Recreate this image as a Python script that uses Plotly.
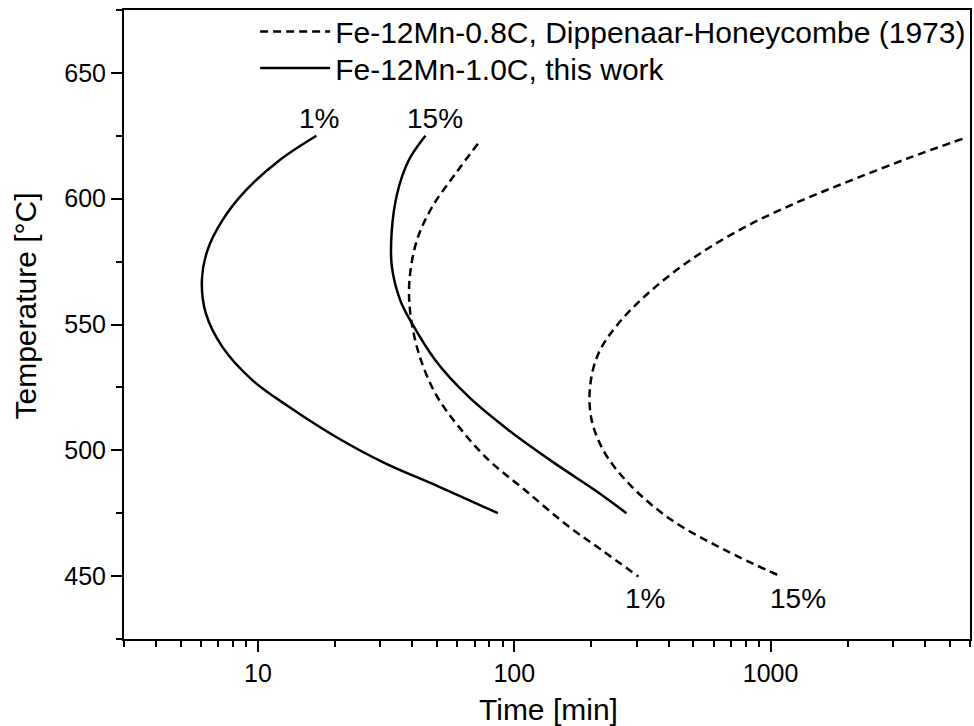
import plotly.graph_objects as go
import math

# ---- data ----
solid_1_time = [16.9, 12.1, 8.96, 7.26, 6.35, 6.04, 6.26, 7.26, 9.50, 13.2, 20.1, 31.4, 50.7, 86.3]
solid_1_temp = [625, 615.2, 603.3, 591.4, 579.5, 567.6, 554.4, 541.1, 527.9, 517.3, 505.4, 494.8, 485.6, 475]

solid_15_time = [45.0, 38.7, 34.9, 33.2, 33.3, 35.9, 39.9, 49.2, 66.3, 94.8, 144, 206, 274]
solid_15_temp = [625, 615.2, 602, 586.1, 572.9, 559.6, 550.4, 535.8, 521.3, 508.1, 494.8, 484.2, 475]

dash_1_time = [72.1, 58.9, 47.8, 41.7, 39.0, 39.3, 42.4, 49.2, 60.7, 79.3, 110, 163, 219, 305]
dash_1_temp = [621.8, 609.9, 596.7, 583.5, 567.6, 554.4, 538.5, 522.6, 509.4, 496.2, 484.2, 469.7, 460.4, 449.8]

dash_15_time = [5610, 3530, 2062, 1281, 793, 506, 343, 255, 213, 197.5, 200.4, 226, 287, 411, 662, 1101]
dash_15_temp = [623.8, 616.5, 607.3, 598.7, 588.7, 576.8, 563.6, 550.4, 538.5, 525.2, 512.0, 498.8, 485.6, 472.3, 460.4, 449.8]

label_text = ["1%", "15%", "1%", "15%"]
label_time = [17.3, 48.9, 324, 1279]
label_temp = [632, 632, 441, 441]

legend_names = ["Fe-12Mn-0.8C, Dippenaar-Honeycombe (1973)", "Fe-12Mn-1.0C, this work"]

x_title = "Time [min]"
y_title = "Temperature [°C]"

x_major = [10, 100, 1000]
x_minor = [3, 4, 5, 6, 7, 8, 9, 20, 30, 40, 50, 60, 70, 80, 90,
           200, 300, 400, 500, 600, 700, 800, 900, 2000, 3000, 4000, 5000, 6000]

FONT = "Liberation Sans, Arial, sans-serif"
LW = 2.5
DASH = "8px,5px"

fig = go.Figure()

fig.add_trace(go.Scatter(x=dash_1_time, y=dash_1_temp, mode="lines", name=legend_names[0],
                         line=dict(color="black", width=LW, dash=DASH, shape="spline"),
                         legend="legend", legendgroup="d", showlegend=True))
fig.add_trace(go.Scatter(x=dash_15_time, y=dash_15_temp, mode="lines", name=legend_names[0],
                         line=dict(color="black", width=LW, dash=DASH, shape="spline"),
                         legend="legend", legendgroup="d", showlegend=False))
fig.add_trace(go.Scatter(x=solid_1_time, y=solid_1_temp, mode="lines", name=legend_names[1],
                         line=dict(color="black", width=LW, shape="spline"),
                         legend="legend2", legendgroup="s", showlegend=True))
fig.add_trace(go.Scatter(x=solid_15_time, y=solid_15_temp, mode="lines", name=legend_names[1],
                         line=dict(color="black", width=LW, shape="spline"),
                         legend="legend2", legendgroup="s", showlegend=False))

for txt, t, T in zip(label_text, label_time, label_temp):
    fig.add_annotation(x=math.log10(t), y=T, text=txt, showarrow=False,
                       font=dict(family=FONT, size=28, color="black"))

# axis titles placed as text annotations (paper coordinates)
fig.add_annotation(xref="paper", yref="paper", x=0.502, y=-0.112, text=x_title,
                   showarrow=False, xanchor="center", yanchor="middle",
                   font=dict(family=FONT, size=30, color="black"))
fig.add_annotation(xref="paper", yref="paper", x=-0.116, y=0.53, text=y_title,
                   showarrow=False, xanchor="center", yanchor="middle", textangle=-90,
                   font=dict(family=FONT, size=30, color="black"))

legend_style = dict(xanchor="left", yanchor="top", bgcolor="rgba(0,0,0,0)",
                    font=dict(family=FONT, size=30), itemwidth=70)

fig.update_layout(
    width=974, height=726,
    margin=dict(l=124, r=2, t=10, b=87),
    paper_bgcolor="white", plot_bgcolor="white",
    font=dict(family=FONT, color="black"),
    legend=dict(x=0.155, y=1.0072, **legend_style),
    legend2=dict(x=0.155, y=0.9491, **legend_style),
    showlegend=True,
)

fig.update_xaxes(
    type="log", range=[math.log10(3), math.log10(6000)],
    tickvals=x_major, ticktext=[str(v) for v in x_major],
    ticks="outside", ticklen=11, tickwidth=2, tickcolor="black",
    showline=True, linewidth=2, linecolor="black", mirror=True,
    showgrid=False, zeroline=False,
    tickfont=dict(family=FONT, size=25),
    minor=dict(tickvals=x_minor, ticks="outside", ticklen=6, tickwidth=2,
               tickcolor="black", showgrid=False),
)
fig.update_yaxes(
    range=[425, 675], tick0=450, dtick=50,
    ticks="outside", ticklen=11, tickwidth=2, tickcolor="black",
    showline=True, linewidth=2, linecolor="black", mirror=True,
    showgrid=False, zeroline=False,
    tickfont=dict(family=FONT, size=25),
    minor=dict(dtick=25, tick0=425, ticks="outside", ticklen=6, tickwidth=2,
               tickcolor="black", showgrid=False),
)

fig.write_html("out.html")
